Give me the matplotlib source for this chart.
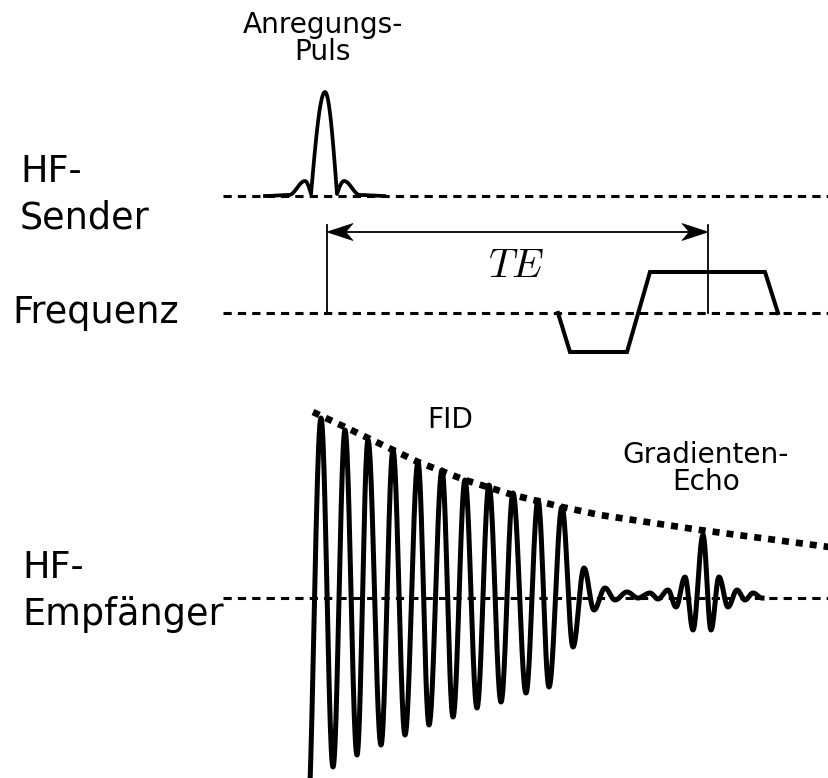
import numpy as np
import matplotlib
matplotlib.use("Agg")
import matplotlib.pyplot as plt
from matplotlib.patches import Polygon

# Zeichenfläche in Diagrammeinheiten (x = Zeit, y nach oben)
WIDTH, HEIGHT = 829, 778

# Grundlinien der drei Kanäle
SENDER_BASE = 582
FREQ_BASE = 465
RX_BASE = 180
LINE_START = 223

# Anregungspuls (HF-Sender): Stützpunkte, Amplitude über der Grundlinie,
# Knick = Nulldurchgang mit Steigung (kein Extremum)
PULSE_T = [265, 289, 305, 311, 325, 337, 344, 360, 384]
PULSE_A = [0, 1, 15, 2, 104, 2, 15, 1, 0]
PULSE_KNICK = [False, False, False, True, False, True, False, False, False]

# Frequenzkodiergradient: Eckpunkte (Dephasierung, dann Auslese)
GRAD_T = [558, 570, 627, 650, 765, 778]
GRAD_A = [0, -39, -39, 41, 41, 0]

# Empfangssignal: FID, Zerfall durch Gradient, dann Gradientenecho
RX_T = [307, 321, 333, 345, 357, 368, 381, 393, 405, 418,
        429, 442, 453, 465, 477, 489, 501, 513, 526, 538,
        549, 562, 573, 584, 594, 605, 615, 627, 638, 650,
        658, 668, 676, 685, 693, 703, 711, 719, 728, 737,
        745, 753, 762]
RX_A = [-230, 180, -169, 168, -157, 158, -147, 148, -137, 136,
        -127, 128, -119, 118, -110, 113, -104, 105, -95, 98,
        -89, 91, -49, 30, -12, 10, -2, 6, 0, 5,
        -1, 8, -9, 21, -32, 63, -32, 21, -9, 8,
        -2, 5, 0]

# T2*-Einhüllende
ENV_T = [313, 347, 393, 418, 465, 513, 562, 600, 700, 829]
ENV_A = [186, 170, 148, 136, 118, 103, 91, 83, 68, 51]

# Echozeit: Pulsmitte bis Echomaximum
TE_START, TE_END = 327, 708
TE_Y = 546

SMALL = 20.2
BIG = 26.3


def bogen(ts, amps, knick=None, n=40):
    """Verbindet Stützpunkte mit Kosinus-Bögen; Extrema flach, Knickpunkte steil."""
    if knick is None:
        knick = [False] * len(ts)
    xs, ys = [], []
    for i in range(len(ts) - 1):
        t0, t1, a0, a1 = ts[i], ts[i + 1], amps[i], amps[i + 1]
        s = np.linspace(0, 1, n, endpoint=False)
        k0, k1 = knick[i], knick[i + 1]
        if k0 and k1:
            f = s
        elif k0:
            f = np.sin(np.pi * s / 2)
        elif k1:
            f = 1 - np.cos(np.pi * s / 2)
        else:
            f = (1 - np.cos(np.pi * s)) / 2
        xs.append(t0 + (t1 - t0) * s)
        ys.append(a0 + (a1 - a0) * f)
    xs.append([ts[-1]])
    ys.append([amps[-1]])
    return np.concatenate(xs), np.concatenate(ys)


def baseline(ax, y):
    ax.plot([LINE_START, WIDTH], [y, y], color="black", lw=2.2,
            linestyle=(0, (2.7, 2.0)), dash_capstyle="butt", zorder=1)


def arrow_head(ax, x_tip, y, direction, length=26, half_width=8.5):
    back = x_tip - direction * length
    notch = x_tip - direction * length * 0.72
    ax.add_patch(Polygon([(x_tip, y), (back, y + half_width), (notch, y),
                          (back, y - half_width)], closed=True,
                         facecolor="black", edgecolor="black", lw=0.5, zorder=3))


fig = plt.figure(figsize=(WIDTH / 100, HEIGHT / 100), dpi=100)
ax = fig.add_axes([0, 0, 1, 1])
ax.set_xlim(0, WIDTH)
ax.set_ylim(0, HEIGHT)
ax.axis("off")

# Grundlinien
for y in (SENDER_BASE, FREQ_BASE, RX_BASE):
    baseline(ax, y)

# HF-Sender: Anregungspuls
px, pa = bogen(PULSE_T, PULSE_A, PULSE_KNICK)
ax.plot(px, SENDER_BASE + pa, color="black", lw=2.7, zorder=2)

# Frequenzgradient
ax.plot(GRAD_T, FREQ_BASE + np.array(GRAD_A), color="black", lw=2.9,
        solid_joinstyle="miter", zorder=2)

# Empfangssignal und Einhüllende
rx, ra = bogen(RX_T, RX_A)
ax.plot(rx, RX_BASE + ra, color="black", lw=3.6, zorder=2)
ax.plot(ENV_T, RX_BASE + np.array(ENV_A), color="black", lw=4.8,
        linestyle=(0, (1.05, 1.05)), dash_capstyle="butt", zorder=2)

# Echozeit TE
for x in (TE_START, TE_END):
    ax.plot([x, x], [FREQ_BASE, TE_Y + 7], color="black", lw=1.3, zorder=2)
ax.plot([TE_START + 10, TE_END - 10], [TE_Y, TE_Y], color="black", lw=1.3, zorder=2)
arrow_head(ax, TE_START, TE_Y, -1)
arrow_head(ax, TE_END, TE_Y, 1)
ax.text((TE_START + TE_END) / 2 - 1, 501, r"$TE$", fontsize=29,
        ha="center", va="baseline", math_fontfamily="cm")

# Kanalbeschriftungen
ax.text(20, 596, "HF-", fontsize=BIG, va="baseline")
ax.text(20, 550, "Sender", fontsize=BIG, va="baseline")
ax.text(12, 455, "Frequenz", fontsize=BIG, va="baseline")
ax.text(22, 200, "HF-", fontsize=BIG, va="baseline")
ax.text(22, 153, "Empfänger", fontsize=BIG, va="baseline")

# Ereignisbeschriftungen
ax.text(323, 745, "Anregungs-", fontsize=SMALL, ha="center", va="baseline")
ax.text(323, 718, "Puls", fontsize=SMALL, ha="center", va="baseline")
ax.text(450, 350, "FID", fontsize=SMALL, ha="center", va="baseline")
ax.text(706, 315, "Gradienten-", fontsize=SMALL, ha="center", va="baseline")
ax.text(706, 288, "Echo", fontsize=SMALL, ha="center", va="baseline")

fig.savefig("out.png", dpi=100, facecolor="white")
